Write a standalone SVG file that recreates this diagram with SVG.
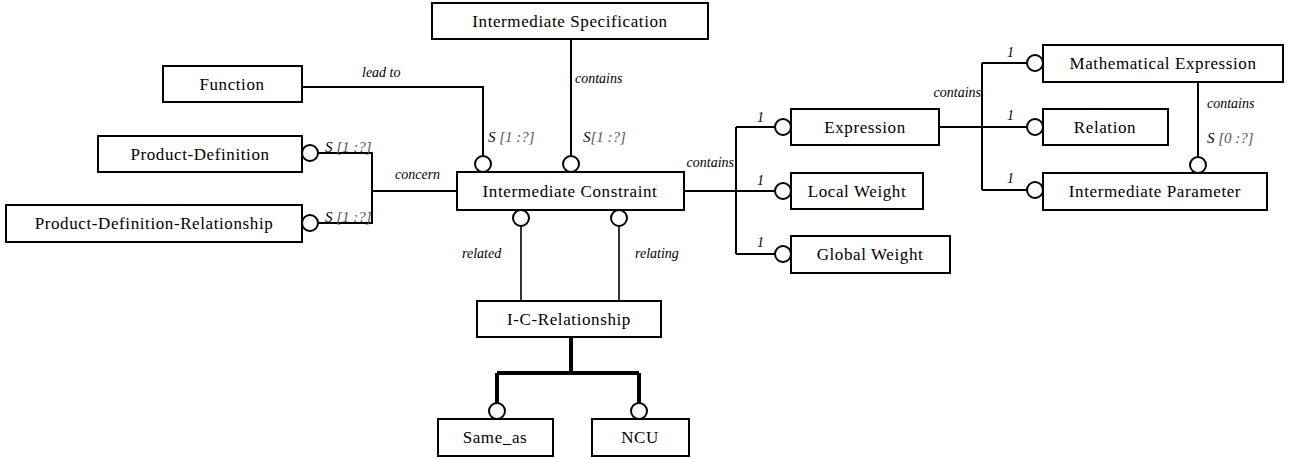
<svg xmlns="http://www.w3.org/2000/svg" width="1293" height="459" viewBox="0 0 1293 459">
<style>
.box{fill:#fff;stroke:#000;stroke-width:2}
.lbl{font-size:17px;letter-spacing:0.6px;text-anchor:middle;fill:#000}
.it{font-style:italic;font-size:14px;fill:#000}
.card{font-style:italic;font-size:15px;fill:#000}
.g{fill:#555}
.ln{fill:none;stroke:#000;stroke-width:2}
.thin{fill:none;stroke:#000;stroke-width:1.6}
.thick{fill:none;stroke:#000;stroke-width:4}
.c{fill:#fff;stroke:#000;stroke-width:2}
</style>
<g id="connectors" font-family="Liberation Serif, serif" font-weight="normal">
<path class="ln" d="M302,87 H483 V156"/>
<path class="ln" d="M571,39 V156"/>
<path class="ln" d="M318,153 H372 V223 H318 M372,191 H457"/>
<path class="ln" d="M684,191 H736 M736,127 V254 M736,127 H775 M736,191 H775 M736,254 H775"/>
<path class="ln" d="M939,127 H982 M982,63 V190 M982,63 H1027 M982,127 H1027 M982,190 H1027"/>
<path class="ln" d="M1198,82 V157"/>
<path class="thin" d="M521,226 V301 M619,226 V301"/>
<path class="thick" d="M571,337 V373 M497,373 H639 M497,373 V403 M639,373 V403"/>
<circle class="c" cx="483" cy="164" r="8"/>
<circle class="c" cx="571" cy="164" r="8"/>
<circle class="c" cx="310" cy="153" r="8"/>
<circle class="c" cx="310" cy="223" r="8"/>
<circle class="c" cx="783" cy="127" r="8"/>
<circle class="c" cx="783" cy="191" r="8"/>
<circle class="c" cx="783" cy="254" r="8"/>
<circle class="c" cx="1035" cy="63" r="8"/>
<circle class="c" cx="1035" cy="127" r="8"/>
<circle class="c" cx="1035" cy="190" r="8"/>
<circle class="c" cx="1198" cy="165" r="8"/>
<circle class="c" cx="521" cy="218" r="8"/>
<circle class="c" cx="619" cy="218" r="8"/>
<circle class="c" cx="497" cy="411" r="8"/>
<circle class="c" cx="639" cy="411" r="8"/>
<text class="it" x="362" y="77">lead to</text>
<text class="it" x="575" y="83">contains</text>
<text class="card" x="488" y="142">S <tspan class="g">[1 :?]</tspan></text>
<text class="card" x="583" y="142">S<tspan class="g">[1 :?]</tspan></text>
<text class="card" x="325" y="152">S <tspan class="g">[1 :?]</tspan></text>
<text class="card" x="325" y="222">S <tspan class="g">[1 :?]</tspan></text>
<text class="it" x="395" y="179">concern</text>
<text class="it" x="734" y="167" text-anchor="end">contains</text>
<text class="it" x="757" y="122">1</text>
<text class="it" x="757" y="185">1</text>
<text class="it" x="757" y="247">1</text>
<text class="it" x="981" y="97" text-anchor="end">contains</text>
<text class="it" x="1007" y="57">1</text>
<text class="it" x="1007" y="120">1</text>
<text class="it" x="1007" y="183">1</text>
<text class="it" x="1207" y="108">contains</text>
<text class="card" x="1207" y="143">S <tspan class="g">[0 :?]</tspan></text>
<text class="it" x="462" y="258">related</text>
<text class="it" x="635" y="258">relating</text>
</g>
<g id="nodes" font-family="Liberation Serif, serif" font-weight="normal">
<g id="n-is"><rect class="box" x="432" y="3" width="276" height="36"/><text class="lbl" x="570" y="27">Intermediate Specification</text></g>
<g id="n-function"><rect class="box" x="163" y="66" width="139" height="36"/><text class="lbl" x="232" y="90">Function</text></g>
<g id="n-pd"><rect class="box" x="98" y="136" width="204" height="36"/><text class="lbl" x="200" y="160">Product-Definition</text></g>
<g id="n-pdr"><rect class="box" x="6" y="205" width="296" height="37"/><text class="lbl" x="154" y="229">Product-Definition-Relationship</text></g>
<g id="n-ic"><rect class="box" x="457" y="172" width="227" height="38"/><text class="lbl" x="570" y="197">Intermediate Constraint</text></g>
<g id="n-expr"><rect class="box" x="791" y="109" width="148" height="36"/><text class="lbl" x="865" y="133">Expression</text></g>
<g id="n-lw"><rect class="box" x="791" y="173" width="132" height="36"/><text class="lbl" x="857" y="197">Local Weight</text></g>
<g id="n-gw"><rect class="box" x="791" y="236" width="159" height="37"/><text class="lbl" x="870" y="260">Global Weight</text></g>
<g id="n-me"><rect class="box" x="1043" y="45" width="240" height="37"/><text class="lbl" x="1163" y="69">Mathematical Expression</text></g>
<g id="n-rel"><rect class="box" x="1043" y="109" width="125" height="36"/><text class="lbl" x="1105" y="133">Relation</text></g>
<g id="n-ip"><rect class="box" x="1043" y="173" width="224" height="37"/><text class="lbl" x="1155" y="197">Intermediate Parameter</text></g>
<g id="n-icr"><rect class="box" x="477" y="301" width="184" height="36"/><text class="lbl" x="569" y="325">I-C-Relationship</text></g>
<g id="n-same"><rect class="box" x="438" y="419" width="115" height="37"/><text class="lbl" x="495" y="443">Same_as</text></g>
<g id="n-ncu"><rect class="box" x="592" y="419" width="97" height="37"/><text class="lbl" x="640" y="443">NCU</text></g>
</g>
</svg>
